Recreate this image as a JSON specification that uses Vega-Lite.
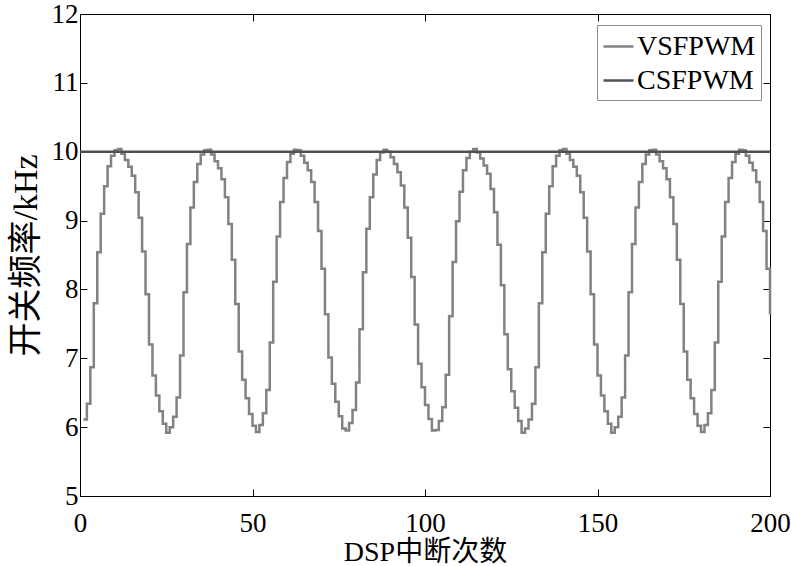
{
  "$schema": "https://vega.github.io/schema/vega-lite/v6.json",
  "width": 690,
  "height": 482,
  "autosize": "none",
  "padding": {"left": 80, "top": 14, "right": 21, "bottom": 70},
  "background": "white",
  "config": {
    "view": {"stroke": "black", "strokeWidth": 1},
    "font": "Liberation Serif, Noto Sans CJK SC",
    "axis": {"grid": false, "domainColor": "black", "tickColor": "black", "labelColor": "black", "titleColor": "black",
             "labelFont": "Liberation Serif", "labelFontSize": 27, "titleFont": "Liberation Serif, Noto Sans CJK SC",
             "titleFontWeight": "normal", "tickSize": -7}
  },
  "layer": [
    {
      "data": {"values": [
        {"n":1,"f":6.11,"s":"VSFPWM"},{"n":2,"f":6.34,"s":"VSFPWM"},{"n":3,"f":6.87,"s":"VSFPWM"},{"n":4,"f":7.80,"s":"VSFPWM"},{"n":5,"f":8.54,"s":"VSFPWM"},
        {"n":6,"f":9.10,"s":"VSFPWM"},{"n":7,"f":9.50,"s":"VSFPWM"},{"n":8,"f":9.79,"s":"VSFPWM"},{"n":9,"f":9.94,"s":"VSFPWM"},{"n":10,"f":10.02,"s":"VSFPWM"},
        {"n":11,"f":10.04,"s":"VSFPWM"},{"n":12,"f":9.97,"s":"VSFPWM"},{"n":13,"f":9.88,"s":"VSFPWM"},{"n":14,"f":9.78,"s":"VSFPWM"},{"n":15,"f":9.65,"s":"VSFPWM"},
        {"n":16,"f":9.41,"s":"VSFPWM"},{"n":17,"f":9.04,"s":"VSFPWM"},{"n":18,"f":8.55,"s":"VSFPWM"},{"n":19,"f":7.93,"s":"VSFPWM"},{"n":20,"f":7.20,"s":"VSFPWM"},
        {"n":21,"f":6.75,"s":"VSFPWM"},{"n":22,"f":6.46,"s":"VSFPWM"},{"n":23,"f":6.23,"s":"VSFPWM"},{"n":24,"f":6.05,"s":"VSFPWM"},{"n":25,"f":5.92,"s":"VSFPWM"},
        {"n":26,"f":6.00,"s":"VSFPWM"},{"n":27,"f":6.15,"s":"VSFPWM"},{"n":28,"f":6.43,"s":"VSFPWM"},{"n":29,"f":7.04,"s":"VSFPWM"},{"n":30,"f":7.96,"s":"VSFPWM"},
        {"n":31,"f":8.66,"s":"VSFPWM"},{"n":32,"f":9.19,"s":"VSFPWM"},{"n":33,"f":9.56,"s":"VSFPWM"},{"n":34,"f":9.82,"s":"VSFPWM"},{"n":35,"f":9.96,"s":"VSFPWM"},
        {"n":36,"f":10.02,"s":"VSFPWM"},{"n":37,"f":10.03,"s":"VSFPWM"},{"n":38,"f":9.96,"s":"VSFPWM"},{"n":39,"f":9.86,"s":"VSFPWM"},{"n":40,"f":9.76,"s":"VSFPWM"},
        {"n":41,"f":9.60,"s":"VSFPWM"},{"n":42,"f":9.34,"s":"VSFPWM"},{"n":43,"f":8.95,"s":"VSFPWM"},{"n":44,"f":8.43,"s":"VSFPWM"},{"n":45,"f":7.79,"s":"VSFPWM"},
        {"n":46,"f":7.10,"s":"VSFPWM"},{"n":47,"f":6.69,"s":"VSFPWM"},{"n":48,"f":6.42,"s":"VSFPWM"},{"n":49,"f":6.19,"s":"VSFPWM"},{"n":50,"f":6.02,"s":"VSFPWM"},
        {"n":51,"f":5.93,"s":"VSFPWM"},{"n":52,"f":6.03,"s":"VSFPWM"},{"n":53,"f":6.20,"s":"VSFPWM"},{"n":54,"f":6.54,"s":"VSFPWM"},{"n":55,"f":7.23,"s":"VSFPWM"},
        {"n":56,"f":8.11,"s":"VSFPWM"},{"n":57,"f":8.77,"s":"VSFPWM"},{"n":58,"f":9.27,"s":"VSFPWM"},{"n":59,"f":9.62,"s":"VSFPWM"},{"n":60,"f":9.85,"s":"VSFPWM"},
        {"n":61,"f":9.97,"s":"VSFPWM"},{"n":62,"f":10.03,"s":"VSFPWM"},{"n":63,"f":10.02,"s":"VSFPWM"},{"n":64,"f":9.94,"s":"VSFPWM"},{"n":65,"f":9.84,"s":"VSFPWM"},
        {"n":66,"f":9.73,"s":"VSFPWM"},{"n":67,"f":9.56,"s":"VSFPWM"},{"n":68,"f":9.27,"s":"VSFPWM"},{"n":69,"f":8.85,"s":"VSFPWM"},{"n":70,"f":8.30,"s":"VSFPWM"},
        {"n":71,"f":7.64,"s":"VSFPWM"},{"n":72,"f":7.01,"s":"VSFPWM"},{"n":73,"f":6.63,"s":"VSFPWM"},{"n":74,"f":6.37,"s":"VSFPWM"},{"n":75,"f":6.16,"s":"VSFPWM"},
        {"n":76,"f":5.98,"s":"VSFPWM"},{"n":77,"f":5.95,"s":"VSFPWM"},{"n":78,"f":6.06,"s":"VSFPWM"},{"n":79,"f":6.25,"s":"VSFPWM"},{"n":80,"f":6.65,"s":"VSFPWM"},
        {"n":81,"f":7.42,"s":"VSFPWM"},{"n":82,"f":8.25,"s":"VSFPWM"},{"n":83,"f":8.88,"s":"VSFPWM"},{"n":84,"f":9.34,"s":"VSFPWM"},{"n":85,"f":9.67,"s":"VSFPWM"},
        {"n":86,"f":9.88,"s":"VSFPWM"},{"n":87,"f":9.99,"s":"VSFPWM"},{"n":88,"f":10.03,"s":"VSFPWM"},{"n":89,"f":10.00,"s":"VSFPWM"},{"n":90,"f":9.92,"s":"VSFPWM"},
        {"n":91,"f":9.82,"s":"VSFPWM"},{"n":92,"f":9.70,"s":"VSFPWM"},{"n":93,"f":9.51,"s":"VSFPWM"},{"n":94,"f":9.19,"s":"VSFPWM"},{"n":95,"f":8.75,"s":"VSFPWM"},
        {"n":96,"f":8.18,"s":"VSFPWM"},{"n":97,"f":7.49,"s":"VSFPWM"},{"n":98,"f":6.92,"s":"VSFPWM"},{"n":99,"f":6.58,"s":"VSFPWM"},{"n":100,"f":6.32,"s":"VSFPWM"},
        {"n":101,"f":6.12,"s":"VSFPWM"},{"n":102,"f":5.95,"s":"VSFPWM"},{"n":103,"f":5.96,"s":"VSFPWM"},{"n":104,"f":6.09,"s":"VSFPWM"},{"n":105,"f":6.29,"s":"VSFPWM"},
        {"n":106,"f":6.76,"s":"VSFPWM"},{"n":107,"f":7.61,"s":"VSFPWM"},{"n":108,"f":8.40,"s":"VSFPWM"},{"n":109,"f":8.99,"s":"VSFPWM"},{"n":110,"f":9.42,"s":"VSFPWM"},
        {"n":111,"f":9.73,"s":"VSFPWM"},{"n":112,"f":9.91,"s":"VSFPWM"},{"n":113,"f":10.00,"s":"VSFPWM"},{"n":114,"f":10.04,"s":"VSFPWM"},{"n":115,"f":9.99,"s":"VSFPWM"},
        {"n":116,"f":9.90,"s":"VSFPWM"},{"n":117,"f":9.80,"s":"VSFPWM"},{"n":118,"f":9.68,"s":"VSFPWM"},{"n":119,"f":9.46,"s":"VSFPWM"},{"n":120,"f":9.12,"s":"VSFPWM"},
        {"n":121,"f":8.65,"s":"VSFPWM"},{"n":122,"f":8.06,"s":"VSFPWM"},{"n":123,"f":7.35,"s":"VSFPWM"},{"n":124,"f":6.84,"s":"VSFPWM"},{"n":125,"f":6.52,"s":"VSFPWM"},
        {"n":126,"f":6.28,"s":"VSFPWM"},{"n":127,"f":6.09,"s":"VSFPWM"},{"n":128,"f":5.92,"s":"VSFPWM"},{"n":129,"f":5.98,"s":"VSFPWM"},{"n":130,"f":6.11,"s":"VSFPWM"},
        {"n":131,"f":6.34,"s":"VSFPWM"},{"n":132,"f":6.87,"s":"VSFPWM"},{"n":133,"f":7.80,"s":"VSFPWM"},{"n":134,"f":8.54,"s":"VSFPWM"},{"n":135,"f":9.10,"s":"VSFPWM"},
        {"n":136,"f":9.50,"s":"VSFPWM"},{"n":137,"f":9.79,"s":"VSFPWM"},{"n":138,"f":9.94,"s":"VSFPWM"},{"n":139,"f":10.02,"s":"VSFPWM"},{"n":140,"f":10.04,"s":"VSFPWM"},
        {"n":141,"f":9.97,"s":"VSFPWM"},{"n":142,"f":9.88,"s":"VSFPWM"},{"n":143,"f":9.78,"s":"VSFPWM"},{"n":144,"f":9.65,"s":"VSFPWM"},{"n":145,"f":9.41,"s":"VSFPWM"},
        {"n":146,"f":9.04,"s":"VSFPWM"},{"n":147,"f":8.55,"s":"VSFPWM"},{"n":148,"f":7.93,"s":"VSFPWM"},{"n":149,"f":7.20,"s":"VSFPWM"},{"n":150,"f":6.75,"s":"VSFPWM"},
        {"n":151,"f":6.46,"s":"VSFPWM"},{"n":152,"f":6.23,"s":"VSFPWM"},{"n":153,"f":6.05,"s":"VSFPWM"},{"n":154,"f":5.92,"s":"VSFPWM"},{"n":155,"f":6.00,"s":"VSFPWM"},
        {"n":156,"f":6.15,"s":"VSFPWM"},{"n":157,"f":6.43,"s":"VSFPWM"},{"n":158,"f":7.04,"s":"VSFPWM"},{"n":159,"f":7.96,"s":"VSFPWM"},{"n":160,"f":8.66,"s":"VSFPWM"},
        {"n":161,"f":9.19,"s":"VSFPWM"},{"n":162,"f":9.56,"s":"VSFPWM"},{"n":163,"f":9.82,"s":"VSFPWM"},{"n":164,"f":9.96,"s":"VSFPWM"},{"n":165,"f":10.02,"s":"VSFPWM"},
        {"n":166,"f":10.03,"s":"VSFPWM"},{"n":167,"f":9.96,"s":"VSFPWM"},{"n":168,"f":9.86,"s":"VSFPWM"},{"n":169,"f":9.76,"s":"VSFPWM"},{"n":170,"f":9.60,"s":"VSFPWM"},
        {"n":171,"f":9.34,"s":"VSFPWM"},{"n":172,"f":8.95,"s":"VSFPWM"},{"n":173,"f":8.43,"s":"VSFPWM"},{"n":174,"f":7.79,"s":"VSFPWM"},{"n":175,"f":7.10,"s":"VSFPWM"},
        {"n":176,"f":6.69,"s":"VSFPWM"},{"n":177,"f":6.42,"s":"VSFPWM"},{"n":178,"f":6.19,"s":"VSFPWM"},{"n":179,"f":6.02,"s":"VSFPWM"},{"n":180,"f":5.93,"s":"VSFPWM"},
        {"n":181,"f":6.03,"s":"VSFPWM"},{"n":182,"f":6.20,"s":"VSFPWM"},{"n":183,"f":6.54,"s":"VSFPWM"},{"n":184,"f":7.23,"s":"VSFPWM"},{"n":185,"f":8.11,"s":"VSFPWM"},
        {"n":186,"f":8.77,"s":"VSFPWM"},{"n":187,"f":9.27,"s":"VSFPWM"},{"n":188,"f":9.62,"s":"VSFPWM"},{"n":189,"f":9.85,"s":"VSFPWM"},{"n":190,"f":9.97,"s":"VSFPWM"},
        {"n":191,"f":10.03,"s":"VSFPWM"},{"n":192,"f":10.02,"s":"VSFPWM"},{"n":193,"f":9.94,"s":"VSFPWM"},{"n":194,"f":9.84,"s":"VSFPWM"},{"n":195,"f":9.73,"s":"VSFPWM"},
        {"n":196,"f":9.56,"s":"VSFPWM"},{"n":197,"f":9.27,"s":"VSFPWM"},{"n":198,"f":8.85,"s":"VSFPWM"},{"n":199,"f":8.30,"s":"VSFPWM"},{"n":200,"f":7.64,"s":"VSFPWM"}
      ]},
      "mark": {"type": "line", "interpolate": "step-after", "strokeWidth": 2.5},
      "encoding": {
        "x": {"field": "n", "type": "quantitative", "scale": {"domain": [0, 200], "nice": false},
              "axis": {"values": [0, 50, 100, 150, 200], "labelPadding": 21, "titlePadding": 2, "titleFontSize": 28, "labelFlush": false}, "title": "DSP中断次数"},
        "y": {"field": "f", "type": "quantitative", "scale": {"domain": [5, 12], "nice": false, "zero": false},
              "axis": {"values": [5, 6, 7, 8, 9, 10, 11, 12], "labelPadding": 9, "titlePadding": 8, "titleFontSize": 34, "labelFlush": false}, "title": "开关频率/kHz"},
        "color": {"field": "s", "type": "nominal",
                  "scale": {"domain": ["VSFPWM", "CSFPWM"], "range": ["#828282", "#505050"]},
                  "legend": {"orient": "none", "legendX": 517, "legendY": 11, "title": null, "symbolType": "stroke",
                             "symbolSize": 900, "symbolStrokeWidth": 2.5, "labelFont": "Liberation Serif", "labelFontSize": 28,
                             "labelColor": "black", "strokeColor": "#8c8c8c", "fillColor": "white", "padding": 5,
                             "rowPadding": 3, "labelOffset": 2}}
      }
    },
    {
      "data": {"values": [{"n": 0, "f": 10, "s": "CSFPWM"}, {"n": 200, "f": 10, "s": "CSFPWM"}]},
      "mark": {"type": "line", "strokeWidth": 2.5},
      "encoding": {
        "x": {"field": "n", "type": "quantitative", "axis": {"orient": "top", "values": [0, 50, 100, 150, 200], "labels": false, "title": null}},
        "y": {"field": "f", "type": "quantitative", "axis": {"orient": "right", "values": [5, 6, 7, 8, 9, 10, 11, 12], "labels": false, "title": null}},
        "color": {"field": "s", "type": "nominal"}
      }
    }
  ],
  "resolve": {"axis": {"x": "independent", "y": "independent"}}
}
